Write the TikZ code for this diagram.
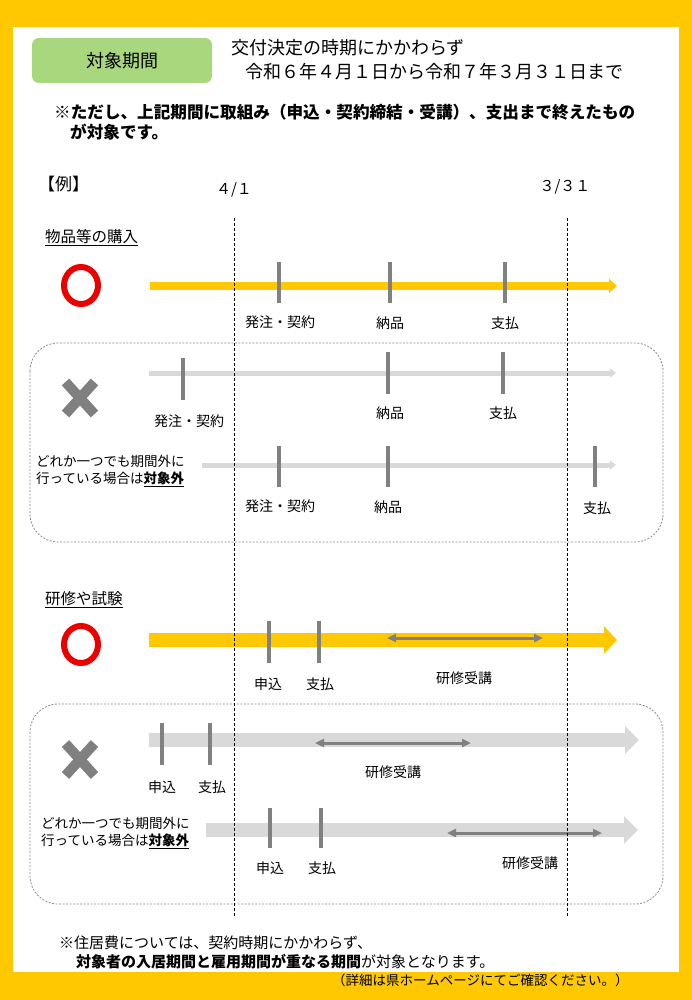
\documentclass[tikz,border=0pt]{standalone}
\usepackage{fontspec}
\setmainfont{Noto Sans CJK JP}
\usetikzlibrary{arrows.meta}
\definecolor{bordery}{RGB}{255,200,0}
\definecolor{arry}{RGB}{255,200,0}
\definecolor{boxgreen}{RGB}{169,215,125}
\definecolor{tickgray}{RGB}{128,128,128}
\definecolor{lightg}{RGB}{217,217,217}
\definecolor{okred}{RGB}{235,0,0}
\definecolor{dashg}{RGB}{140,140,140}
\begin{document}
\begin{tikzpicture}[x=1pt,y=-1pt,
  tickmark/.style={draw=tickgray,line width=4pt},
  lbl/.style={inner sep=0pt,font=\fontsize{14pt}{16pt}\selectfont},
  side/.style={inner sep=0pt,anchor=west,align=left,font=\fontsize{13.5pt}{17pt}\selectfont},
  head/.style={inner sep=0pt,anchor=west,font=\fontsize{18pt}{20pt}\selectfont},
  sect/.style={inner sep=0pt,anchor=base west,font=\fontsize{15.5pt}{18pt}\selectfont},
  okmark/.style={draw=okred,line width=6pt},
  ngmark/.style={draw=tickgray,line width=10pt},
  boxdash/.style={draw=dashg,line width=0.8pt,dash pattern=on 2pt off 1.5pt,rounded corners=28pt},
  vdash/.style={draw=black,line width=0.9pt,dash pattern=on 3pt off 2pt},
  thinyel/.style={draw=arry,line width=8pt,-{Triangle[width=14pt,length=8pt]}},
  thingray/.style={draw=lightg,line width=5pt,-{Triangle[width=9pt,length=6pt]}},
  thickyel/.style={draw=arry,line width=14pt,-{Triangle[width=27pt,length=13pt]}},
  thickgray/.style={draw=lightg,line width=14pt,-{Triangle[width=27pt,length=14pt]}},
  span/.style={draw=tickgray,line width=3pt,{Triangle[width=8pt,length=9pt]}-{Triangle[width=8pt,length=9pt]}}
]
% background
\fill[bordery] (0,0) rectangle (692,1000);
\fill[white] (13,27) rectangle (679,972);
\useasboundingbox (0,0) rectangle (692,1000);

% header
\node[fill=boxgreen,rounded corners=7pt,minimum width=180pt,minimum height=45pt,inner sep=0pt,font=\fontsize{18pt}{20pt}\selectfont] (period) at (122,60.5) {対象期間};
\node[head] (h1) at (231,48) {交付決定の時期にかかわらず};
\node[head] (h2) at (245,72) {令和６年４月１日から令和７年３月３１日まで};
\node[inner sep=0pt,anchor=west,font=\bfseries\fontsize{16.6pt}{19pt}\selectfont] (note1) at (54,112) {※ただし、上記期間に取組み（申込・契約締結・受講）、支出まで終えたもの};
\node[inner sep=0pt,anchor=west,font=\bfseries\fontsize{16.6pt}{19pt}\selectfont] (note2) at (70,132) {が対象です。};
\node[inner sep=0pt,anchor=west,font=\fontsize{17pt}{19pt}\selectfont] (rei) at (38,184) {【例】};
\node[inner sep=0pt,font=\fontsize{15pt}{18pt}\selectfont] (d41) at (234,190) {４/１};
\node[inner sep=0pt,font=\fontsize{15pt}{18pt}\selectfont] (d331) at (565,187) {３/３１};

% ===== section 1 =====
\node[sect] (sec1) at (45,243) {\underline{物品等の購入}};
\draw[okmark] (81,285.5) ellipse [x radius=17pt,y radius=18.5pt];
\coordinate (a1s) at (150,286); \coordinate (a1e) at (617,286);
\draw[thinyel] (a1s) -- (a1e);
\foreach \x/\n in {279/a,390/b,505/c}{\coordinate (t1\n t) at (\x,262); \coordinate (t1\n b) at (\x,303); \draw[tickmark] (t1\n t) -- (t1\n b);}
\node[lbl] (l1a) at (280,322) {発注・契約};
\node[lbl] (l1b) at (390,323) {納品};
\node[lbl] (l1c) at (505,323) {支払};

\draw[boxdash] (30,343) rectangle (663,542);
\draw[ngmark] (65.5,382) -- (94.5,414);
\draw[ngmark] (94.5,382) -- (65.5,414);
\coordinate (a2s) at (149,373); \coordinate (a2e) at (616,373);
\draw[thingray] (a2s) -- (a2e);
\coordinate (t2at) at (183,358); \coordinate (t2ab) at (183,400); \draw[tickmark] (t2at) -- (t2ab);
\coordinate (t2bt) at (388,352); \coordinate (t2bb) at (388,394); \draw[tickmark] (t2bt) -- (t2bb);
\coordinate (t2ct) at (503,352); \coordinate (t2cb) at (503,394); \draw[tickmark] (t2ct) -- (t2cb);
\node[lbl] (l2a) at (189,421) {発注・契約};
\node[lbl] (l2b) at (390,413) {納品};
\node[lbl] (l2c) at (503,413) {支払};

\node[side] (any1) at (36,471) {どれか一つでも期間外に\\行っている場合は\underline{\textbf{対象外}}};
\coordinate (a3s) at (202,465); \coordinate (a3e) at (616,465);
\draw[thingray] (a3s) -- (a3e);
\foreach \x/\n in {279/a,388/b,595/c}{\coordinate (t3\n t) at (\x,446); \coordinate (t3\n b) at (\x,487); \draw[tickmark] (t3\n t) -- (t3\n b);}
\node[lbl] (l3a) at (280,506) {発注・契約};
\node[lbl] (l3b) at (388,507) {納品};
\node[lbl] (l3c) at (597,508) {支払};

% ===== section 2 =====
\node[sect] (sec2) at (45,604) {\underline{研修や試験}};
\draw[okmark] (81,644.5) ellipse [x radius=17pt,y radius=18.5pt];
\coordinate (b1s) at (149,640); \coordinate (b1e) at (617,640);
\draw[thickyel] (b1s) -- (b1e);
\foreach \x/\n in {269/a,319/b}{\coordinate (u1\n t) at (\x,621); \coordinate (u1\n b) at (\x,663); \draw[tickmark] (u1\n t) -- (u1\n b);}
\coordinate (s1a) at (387,638); \coordinate (s1b) at (543,638);
\draw[span] (s1a) -- (s1b);
\node[lbl] (m1a) at (268,684) {申込};
\node[lbl] (m1b) at (320,684) {支払};
\node[lbl] (m1c) at (464,678) {研修受講};

\draw[boxdash] (30,704) rectangle (663,904);
\draw[ngmark] (65.5,743.5) -- (94.5,775.5);
\draw[ngmark] (94.5,743.5) -- (65.5,775.5);
\coordinate (b2s) at (149,740); \coordinate (b2e) at (639,740);
\draw[thickgray] (b2s) -- (b2e);
\foreach \x/\n in {162/a,210/b}{\coordinate (u2\n t) at (\x,723); \coordinate (u2\n b) at (\x,765); \draw[tickmark] (u2\n t) -- (u2\n b);}
\coordinate (s2a) at (315,743); \coordinate (s2b) at (471,743);
\draw[span] (s2a) -- (s2b);
\node[lbl] (m2a) at (162,787) {申込};
\node[lbl] (m2b) at (212,787) {支払};
\node[lbl] (m2c) at (393,772) {研修受講};

\node[side] (any2) at (41,833) {どれか一つでも期間外に\\行っている場合は\underline{\textbf{対象外}}};
\coordinate (b3s) at (206,830); \coordinate (b3e) at (638,830);
\draw[thickgray] (b3s) -- (b3e);
\foreach \x/\n in {270/a,321/b}{\coordinate (u3\n t) at (\x,808); \coordinate (u3\n b) at (\x,848); \draw[tickmark] (u3\n t) -- (u3\n b);}
\coordinate (s3a) at (447,833); \coordinate (s3b) at (602,833);
\draw[span] (s3a) -- (s3b);
\node[lbl] (m3a) at (270,868) {申込};
\node[lbl] (m3b) at (322,868) {支払};
\node[lbl] (m3c) at (530,863) {研修受講};

% period boundaries
\coordinate (v1t) at (234,218); \coordinate (v1b) at (234,917);
\coordinate (v2t) at (567,218); \coordinate (v2b) at (567,917);
\draw[vdash] (v1t) -- (v1b);
\draw[vdash] (v2t) -- (v2b);

% footer
\node[inner sep=0pt,anchor=west,font=\fontsize{15pt}{18pt}\selectfont] (f1) at (59,943) {※住居費については、契約時期にかかわらず、};
\node[inner sep=0pt,anchor=west,font=\fontsize{15pt}{18pt}\selectfont] (f2) at (76,962) {\textbf{対象者の入居期間と雇用期間が重なる期間}が対象となります。};
\node[inner sep=0pt,anchor=west,font=\fontsize{13.5pt}{16pt}\selectfont] (f3) at (332,980) {（詳細は県ホームページにてご確認ください。）};
\end{tikzpicture}
\end{document}
